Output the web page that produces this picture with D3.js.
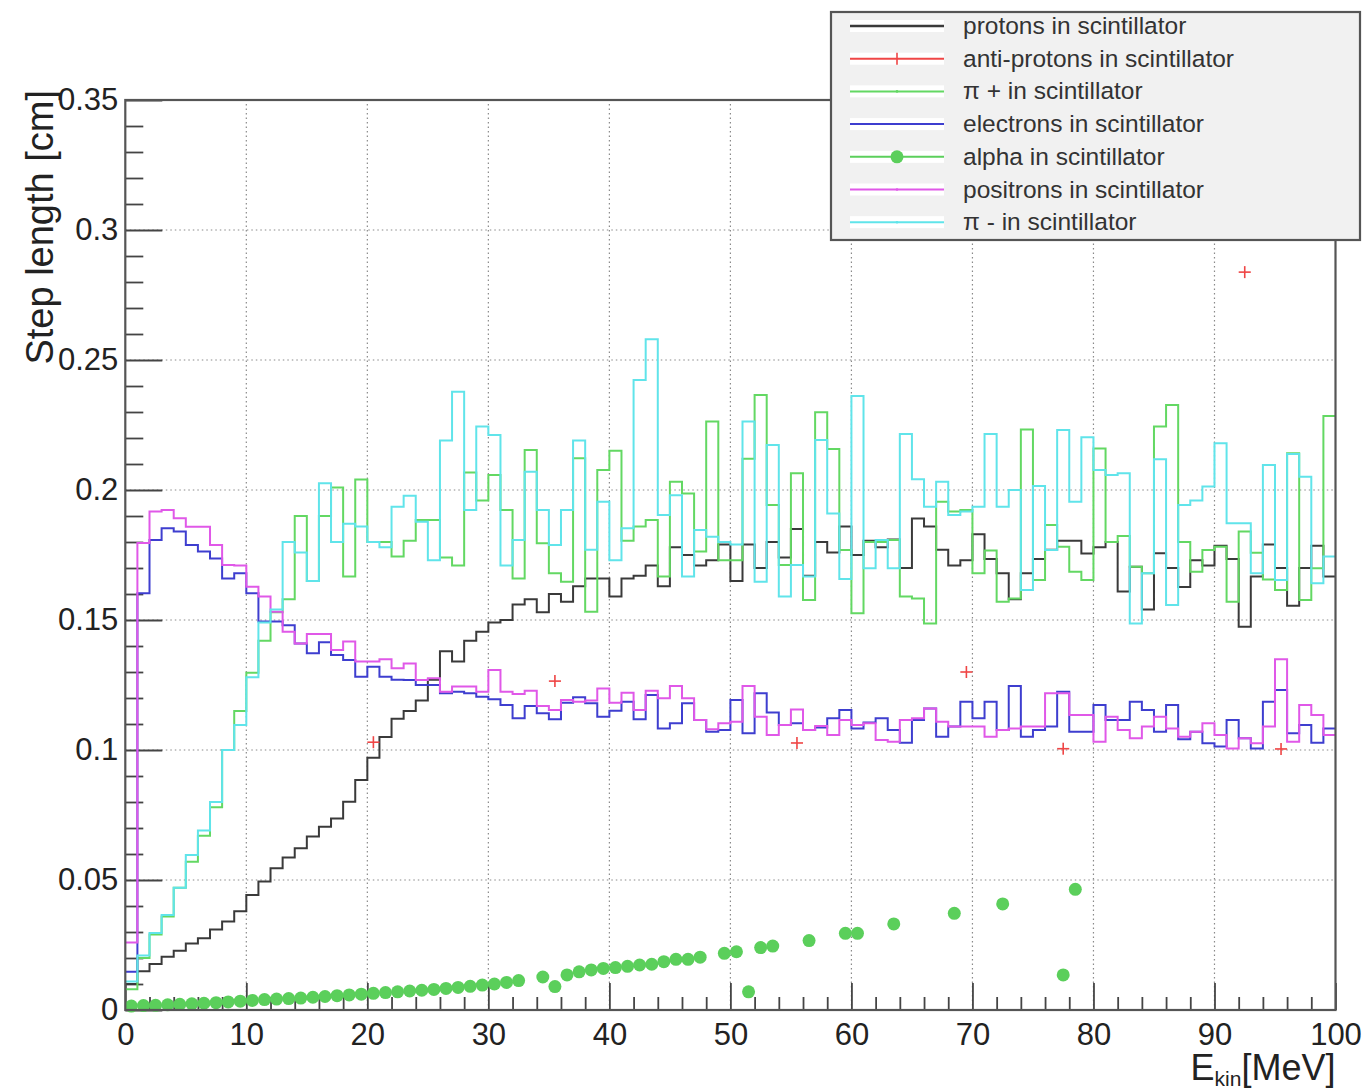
<!DOCTYPE html>
<html>
<head>
<meta charset="utf-8">
<script src="https://cdn.jsdelivr.net/npm/d3@7"></script>
<style>
  body { margin: 0; background: #fff; }
  text { font-family: "Liberation Sans", Arial, Helvetica, sans-serif; }
</style>
</head>
<body>
<svg id="chart" width="1367" height="1092"></svg>
<script>
// Step length per 1 MeV bin of kinetic energy, 0-100 MeV (100 bins)
const protons = [
  0.010, 0.0149, 0.0177, 0.0205, 0.0228, 0.0256, 0.0276, 0.031, 0.034, 0.038,
  0.0442, 0.0494, 0.0545, 0.0587, 0.0622, 0.0667, 0.0705, 0.0737, 0.0801, 0.0885,
  0.097, 0.105, 0.112, 0.115, 0.119, 0.127, 0.138, 0.134, 0.142, 0.1455,
  0.149, 0.150, 0.156, 0.158, 0.153, 0.160, 0.157, 0.163, 0.166, 0.166,
  0.159, 0.166, 0.167, 0.171, 0.163, 0.178, 0.175, 0.171, 0.173, 0.179,
  0.165, 0.179, 0.170, 0.180, 0.174, 0.185, 0.167, 0.180, 0.176, 0.186,
  0.175, 0.1805, 0.178, 0.181, 0.170, 0.189, 0.186, 0.177, 0.171, 0.173,
  0.183, 0.1735, 0.168, 0.158, 0.168, 0.1735, 0.177, 0.1805, 0.1805, 0.1756,
  0.178, 0.180, 0.161, 0.1705, 0.154, 0.1757, 0.170, 0.1627, 0.173, 0.171,
  0.1786, 0.1735, 0.1474, 0.1667, 0.179, 0.170, 0.1555, 0.170, 0.1786, 0.1667
];
const piPlus = [
  0.008, 0.020, 0.029, 0.036, 0.047, 0.057, 0.067, 0.078, 0.100, 0.115,
  0.1297, 0.142, 0.153, 0.158, 0.190, 0.165, 0.190, 0.201, 0.1667, 0.204,
  0.180, 0.180, 0.1744, 0.1805, 0.1885, 0.1885, 0.174, 0.171, 0.2067, 0.196,
  0.2058, 0.1923, 0.166, 0.2154, 0.1795, 0.168, 0.1647, 0.2122, 0.1532, 0.2077,
  0.2151, 0.1805, 0.186, 0.1885, 0.1667, 0.2032, 0.1987, 0.1763, 0.2263, 0.173,
  0.173, 0.212, 0.2365, 0.1942, 0.1712, 0.2064, 0.1577, 0.2299, 0.2158, 0.1769,
  0.1526, 0.180, 0.180, 0.1808, 0.159, 0.1583, 0.1487, 0.1955, 0.1917, 0.1923,
  0.168, 0.1767, 0.157, 0.1583, 0.2233, 0.1654, 0.1865, 0.1782, 0.1686, 0.1654,
  0.216, 0.180, 0.1823, 0.1705, 0.168, 0.2244, 0.2327, 0.180, 0.1686, 0.1769,
  0.1782, 0.157, 0.184, 0.1759, 0.1656, 0.1615, 0.2141, 0.1577, 0.1699, 0.2285
];
const electrons = [
  0.0147, 0.1603, 0.1808, 0.1853, 0.184, 0.1788, 0.1763, 0.1737, 0.166, 0.168,
  0.1603, 0.1494, 0.1494, 0.148, 0.141, 0.1372, 0.1414, 0.1365, 0.1346, 0.1282,
  0.132, 0.1282, 0.127, 0.1269, 0.125, 0.125, 0.1218, 0.1224, 0.1218, 0.1205,
  0.1195, 0.1173, 0.1122, 0.1169, 0.1141, 0.1118, 0.1182, 0.1203, 0.118, 0.1128,
  0.1151, 0.1186, 0.1118, 0.1212, 0.1083, 0.1103, 0.118, 0.1115, 0.107, 0.1077,
  0.1192, 0.1064, 0.1218, 0.1144, 0.1096, 0.1103, 0.1077, 0.1087, 0.1122, 0.1154,
  0.1083, 0.1106, 0.1122, 0.1077, 0.1028, 0.1115, 0.116, 0.1051, 0.109, 0.1186,
  0.1122, 0.1186, 0.1077, 0.1246, 0.1051, 0.1077, 0.109, 0.1224, 0.107, 0.107,
  0.1173, 0.1115, 0.1115, 0.1186, 0.1154, 0.107, 0.1173, 0.1041, 0.107, 0.1026,
  0.1013, 0.1115, 0.1045, 0.1006, 0.1186, 0.1231, 0.1064, 0.1096, 0.1028, 0.1083
];
const positrons = [
  0.026, 0.1796, 0.1917, 0.1923, 0.1891, 0.1859, 0.1859, 0.1788, 0.1712, 0.171,
  0.1628, 0.159, 0.1532, 0.1455, 0.141, 0.1446, 0.1446, 0.1385, 0.1417, 0.134,
  0.134, 0.1349, 0.1314, 0.1333, 0.1269, 0.1276, 0.1224, 0.1244, 0.1244, 0.1224,
  0.1308, 0.1224, 0.1215, 0.1228, 0.1169, 0.1154, 0.1192, 0.1186, 0.119, 0.1237,
  0.1182, 0.122, 0.1154, 0.1228, 0.1199, 0.1246, 0.1199, 0.1115, 0.108, 0.1103,
  0.1109, 0.1246, 0.1128, 0.1058, 0.1096, 0.1156, 0.1077, 0.1092, 0.1058, 0.1115,
  0.1096, 0.1103, 0.1038, 0.1032, 0.1115, 0.1122, 0.116, 0.1109, 0.109, 0.109,
  0.109, 0.1051, 0.1077, 0.1083, 0.109, 0.109, 0.1218, 0.1218, 0.1135, 0.1135,
  0.1032, 0.1128, 0.1077, 0.1045, 0.109, 0.1128, 0.1083, 0.1051, 0.107, 0.1103,
  0.1058, 0.1006, 0.1045, 0.1026, 0.109, 0.1349, 0.1032, 0.1173, 0.1135, 0.1058
];
const piMinus = [
  0.011, 0.021, 0.0296, 0.0365, 0.047, 0.0596, 0.069, 0.080, 0.100, 0.1096,
  0.128, 0.149, 0.154, 0.180, 0.176, 0.165, 0.2026, 0.180, 0.187, 0.186,
  0.180, 0.178, 0.1936, 0.1978, 0.1878, 0.173, 0.219, 0.2378, 0.1923, 0.2244,
  0.2212, 0.171, 0.1808, 0.207, 0.1923, 0.1788, 0.1923, 0.219, 0.177, 0.1955,
  0.173, 0.1853, 0.2423, 0.258, 0.1904, 0.198, 0.1667, 0.1846, 0.182, 0.180,
  0.179, 0.2263, 0.1647, 0.2173, 0.159, 0.1712, 0.1667, 0.2192, 0.191, 0.1658,
  0.2362, 0.1699, 0.1808, 0.1699, 0.2215, 0.2041, 0.1936, 0.2032, 0.1904, 0.1917,
  0.1936, 0.2215, 0.1936, 0.200, 0.1615, 0.2015, 0.1769, 0.2231, 0.1955, 0.2203,
  0.2077, 0.2058, 0.2064, 0.1487, 0.168, 0.2118, 0.1558, 0.1942, 0.196, 0.2013,
  0.218, 0.1872, 0.1872, 0.168, 0.2096, 0.1654, 0.2138, 0.2051, 0.1641, 0.1744
];
// Anti-protons: only a few filled bins (bin index, value)
const antiBins   = [20, 35, 55, 69, 77, 92, 95];
const antiValues = [0.103, 0.1265, 0.1027, 0.130, 0.1005, 0.2838, 0.1004];
// Alpha particles: filled bins (bin index, value)
const alphaBins = [
  0, 1, 2, 3, 4, 5, 6, 7, 8, 9, 10, 11, 12, 13, 14, 15, 16, 17, 18, 19,
  20, 21, 22, 23, 24, 25, 26, 27, 28, 29, 30, 31, 32, 34, 35, 36, 37, 38, 39, 40,
  41, 42, 43, 44, 45, 46, 47, 49, 50, 51, 52, 53, 56, 59, 60, 63, 68, 72, 77, 78
];
const alphaValues = [
  0.0015, 0.0017, 0.0018, 0.0020, 0.0022, 0.0024, 0.0026, 0.0028, 0.0031, 0.0034,
  0.0037, 0.0040, 0.0042, 0.0044, 0.0046, 0.0049, 0.0052, 0.0055, 0.0058, 0.0061,
  0.0064, 0.0067, 0.0070, 0.0073, 0.0076, 0.0079, 0.0083, 0.0087, 0.0091, 0.0096,
  0.0100, 0.0106, 0.0113, 0.0127, 0.0090, 0.0135, 0.0147, 0.0154, 0.0160, 0.0163,
  0.0168, 0.0173, 0.0176, 0.0186, 0.0195, 0.0195, 0.0203, 0.0218, 0.0224, 0.0070,
  0.0240, 0.0246, 0.0267, 0.0295, 0.0295, 0.0331, 0.0372, 0.0408, 0.0135, 0.0464
];

const xMajorTicks = [0, 10, 20, 30, 40, 50, 60, 70, 80, 90, 100];
const yMajorTicks = [0, 0.05, 0.1, 0.15, 0.2, 0.25, 0.3, 0.35];
const yTickLabels = ["0", "0.05", "0.1", "0.15", "0.2", "0.25", "0.3", "0.35"];

const legendLabels = [
  "protons in scintillator", "anti-protons in scintillator", "\u03C0 + in scintillator",
  "electrons in scintillator", "alpha in scintillator", "positrons in scintillator",
  "\u03C0 - in scintillator"
];

const col = {
  protons: "#3a3a3a", anti: "#ef4545", piPlus: "#63d863", electrons: "#3e3ecf",
  alpha: "#5bcf5b", positrons: "#e058e8", piMinus: "#60e4ea"
};

const svg = d3.select("#chart");
const X0 = 125.3, X1 = 1335.5, Y0 = 1010, Y1 = 100;
const x = d3.scaleLinear().domain([0, 100]).range([X0, X1]);
const y = d3.scaleLinear().domain([0, 0.35]).range([Y0, Y1]);

// grid
const grid = svg.append("g").attr("stroke", "#8a8a8a").attr("stroke-width", 1.2)
  .attr("stroke-dasharray", "1.5,3");
grid.selectAll("line.gx").data(xMajorTicks.slice(1, -1)).join("line")
  .attr("x1", d => x(d)).attr("x2", d => x(d)).attr("y1", Y0).attr("y2", Y1);
grid.selectAll("line.gy").data(yMajorTicks.slice(1, -1)).join("line")
  .attr("x1", X0).attr("x2", X1).attr("y1", d => y(d)).attr("y2", d => y(d));

// axes (ticks drawn inside the frame)
const minorX = d3.range(0, 101, 2).filter(v => v % 10 !== 0);
const minorY = d3.range(0, 36, 1).map(v => v / 100).filter(v => Math.round(v * 100) % 5 !== 0);

const fontTick = 31;
svg.append("g").attr("transform", `translate(0,${Y0})`)
  .call(d3.axisBottom(x).tickValues(xMajorTicks).tickSize(-27).tickPadding(13).tickFormat(d3.format("d")));
svg.append("g").attr("transform", `translate(0,${Y0})`)
  .call(d3.axisBottom(x).tickValues(minorX).tickSize(-13).tickFormat(""));
svg.append("g").attr("transform", `translate(${X0},0)`)
  .call(d3.axisLeft(y).tickValues(yMajorTicks).tickSize(-37).tickPadding(7).tickFormat((d, i) => yTickLabels[i]));
svg.append("g").attr("transform", `translate(${X0},0)`)
  .call(d3.axisLeft(y).tickValues(minorY).tickSize(-18).tickFormat(""));
svg.selectAll(".domain").remove();
svg.selectAll(".tick line").attr("stroke", "#444").attr("stroke-width", 1.8);
svg.selectAll(".tick text").attr("font-size", fontTick).attr("fill", "#222")
  .attr("font-family", "\"Liberation Sans\", Arial, sans-serif");

// histogram step outlines
function steps(vals) {
  const pts = vals.map((v, i) => [i, v]);
  pts.push([vals.length, vals[vals.length - 1]]);
  return pts;
}
const stepLine = d3.line().x(d => x(d[0])).y(d => y(d[1])).curve(d3.curveStepAfter);
const plot = svg.append("g");

function drawHist(vals, color) {
  plot.append("path").attr("d", stepLine(steps(vals))).attr("fill", "none")
    .attr("stroke", color).attr("stroke-width", 2).attr("stroke-linejoin", "miter");
}

drawHist(protons, col.protons);

// anti-protons: bin-width horizontal bar with small vertical error bar
const anti = plot.append("g").attr("stroke", col.anti).attr("stroke-width", 1.6);
antiBins.forEach((b, i) => {
  const v = antiValues[i];
  anti.append("line").attr("x1", x(b)).attr("x2", x(b + 1)).attr("y1", y(v)).attr("y2", y(v));
  anti.append("line").attr("x1", x(b + 0.5)).attr("x2", x(b + 0.5)).attr("y1", y(v) - 6).attr("y2", y(v) + 6);
});

drawHist(piPlus, col.piPlus);
drawHist(electrons, col.electrons);

plot.append("g").selectAll("circle").data(alphaBins).join("circle")
  .attr("cx", b => x(b + 0.5)).attr("cy", (b, i) => y(alphaValues[i]))
  .attr("r", 6.5).attr("fill", col.alpha);

drawHist(positrons, col.positrons);
drawHist(piMinus, col.piMinus);

// frame
svg.append("rect").attr("x", X0).attr("y", Y1).attr("width", X1 - X0).attr("height", Y0 - Y1)
  .attr("fill", "none").attr("stroke", "#555").attr("stroke-width", 2.2);

// axis titles
const xt = svg.append("text").attr("x", X1).attr("y", 1080).attr("text-anchor", "end")
  .attr("font-size", 36).attr("fill", "#222");
xt.append("tspan").text("E");
xt.append("tspan").attr("font-size", 21).attr("dy", 6).text("kin");
xt.append("tspan").attr("dy", -6).text("[MeV]");

svg.append("text").attr("transform", "translate(53,90) rotate(-90)")
  .attr("text-anchor", "end").attr("font-size", 38).attr("fill", "#222")
  .text("Step length [cm]");

// legend
const LX = 831, LY = 12, LW = 529, LH = 228;
const leg = svg.append("g");
leg.append("rect").attr("x", LX).attr("y", LY).attr("width", LW).attr("height", LH)
  .attr("fill", "#f1f1f1").attr("stroke", "#555").attr("stroke-width", 2.2);
const legColors = [col.protons, col.anti, col.piPlus, col.electrons, col.alpha, col.positrons, col.piMinus];
const rowY = i => 26 + i * 32.7;
legendLabels.forEach((lab, i) => {
  const cy = rowY(i);
  leg.append("rect").attr("x", 850).attr("y", cy - 6).attr("width", 94).attr("height", 12).attr("fill", "#fff");
  leg.append("line").attr("x1", 850).attr("x2", 944).attr("y1", cy).attr("y2", cy)
    .attr("stroke", legColors[i]).attr("stroke-width", i === 0 ? 2.6 : 2);
  if (i === 1) {
    leg.append("line").attr("x1", 897).attr("x2", 897).attr("y1", cy - 6).attr("y2", cy + 6)
      .attr("stroke", legColors[i]).attr("stroke-width", 1.6);
  } else if (i === 4) {
    leg.append("circle").attr("cx", 897).attr("cy", cy).attr("r", 6.5).attr("fill", legColors[i]);
  } else if (i !== 0 && i !== 3) {
    leg.append("circle").attr("cx", 897).attr("cy", cy).attr("r", 1.3).attr("fill", legColors[i]);
  }
  leg.append("text").attr("x", 963).attr("y", cy + 8).attr("font-size", 24.5).attr("fill", "#333").text(lab);
});
</script>
</body>
</html>
